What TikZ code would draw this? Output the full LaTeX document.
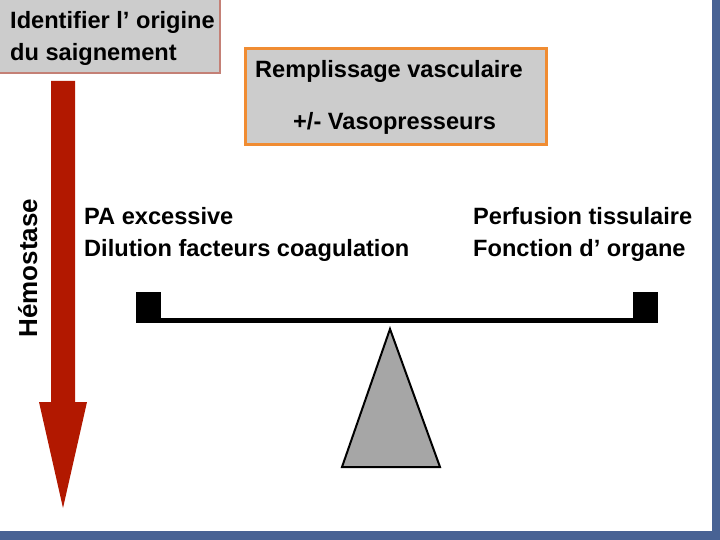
\documentclass[tikz,border=0pt]{standalone}
\usepackage{fontspec}
\setmainfont{Liberation Sans}
\usepackage{xcolor}
\definecolor{myred}{RGB}{178,24,0}
\definecolor{mygray}{RGB}{204,204,204}
\definecolor{myorange}{RGB}{240,140,50}
\definecolor{mybrown}{RGB}{196,128,118}
\definecolor{myblue}{RGB}{72,98,148}
\definecolor{mypivot}{RGB}{166,166,166}
\usepackage{tikz}

\begin{document}
\begin{tikzpicture}[x=1pt,y=-1pt,line join=miter]
	\tikzstyle{txt}=[inner sep=0pt,anchor=base west,font=\fontsize{23.6}{28}\selectfont\bfseries];
	\tikzstyle{boite}=[fill=mygray,inner sep=0pt];
	\useasboundingbox (0,0) rectangle (720,540);
	\fill[myblue] (0,0) rectangle (720,540);
	\fill[white] (0,0) rectangle (712,531);
	% origine du saignement
	\draw[boite,draw=mybrown,line width=1.2pt] (-5,-5) rectangle (220,73);
	\node[txt] (origine) at (10,29) {Identifier l’ origine};
	\node[txt] (saign) at (10,61) {du saignement};
	% remplissage
	\node[boite,draw=myorange,line width=2.8pt,minimum width=301pt,minimum height=96pt] (remp) at (396,96.5) {};
	\node[txt] (vasc) at (255,78) {Remplissage vasculaire};
	\node[txt] (vaso) at (293,130) {+/- Vasopresseurs};
	% hemostase
	\fill[myred] (51,81) -- (75,81) -- (75,402) -- (87,402) -- (63,508) -- (39,402) -- (51,402) -- cycle;
	\node[inner sep=0pt,rotate=90,anchor=base,font=\fontsize{26}{30}\selectfont\bfseries] (hemo) at (37,268) {Hémostase};
	% balance
	\node[txt] (pa) at (84,225) {PA excessive};
	\node[txt] (dil) at (84,256) {Dilution facteurs coagulation};
	\node[txt] (perf) at (473,225) {Perfusion tissulaire};
	\node[txt] (fonc) at (473,256) {Fonction d’ organe};
	\fill (136,292) rectangle (161,323);
	\fill (633,292) rectangle (658,323);
	\fill (136,318) rectangle (658,323);
	\draw[fill=mypivot,line width=2pt] (390,329) -- (440,467) -- (342,467) -- cycle;
\end{tikzpicture}
\end{document}
